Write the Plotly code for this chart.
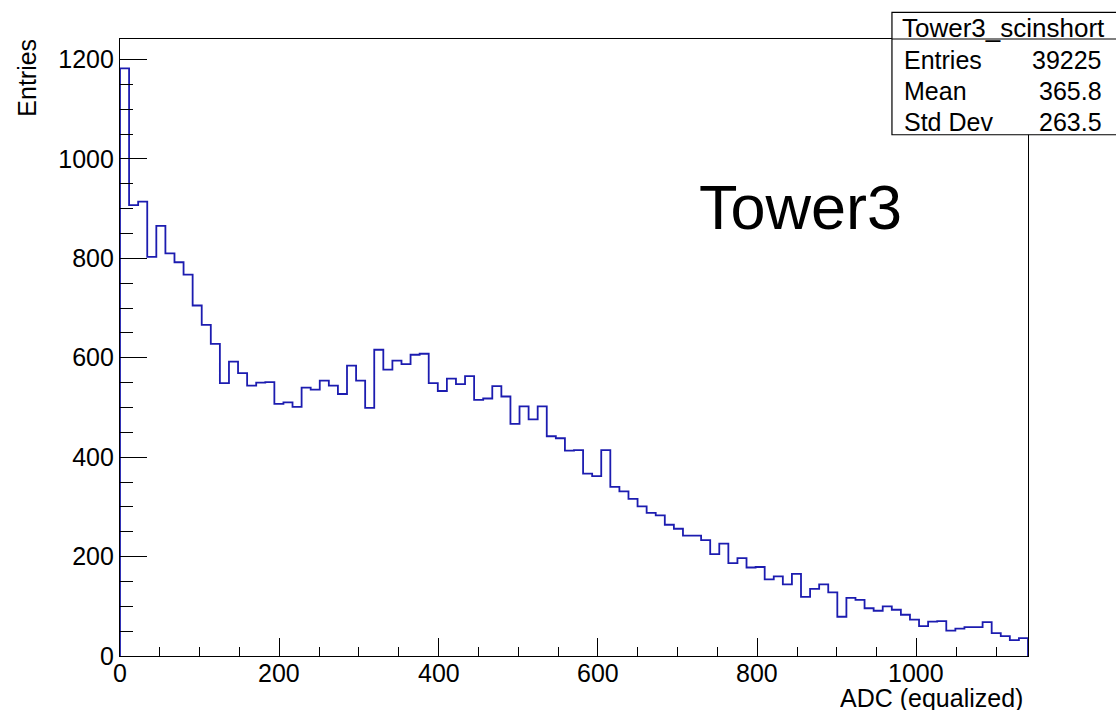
import plotly.graph_objects as go

# Histogram: 100 bins of ADC (equalized), range 0 .. 1140
x_min = 0.0
x_max = 1140.0
counts = [
    1182, 907, 914, 803, 865, 810, 792, 767, 705, 666,
    628, 549, 592, 569, 544, 550, 551, 507, 510, 501,
    540, 536, 554, 544, 527, 584, 554, 499, 616, 576,
    594, 587, 606, 608, 549, 533, 558, 547, 563, 515,
    518, 543, 522, 467, 502, 476, 502, 442, 438, 413,
    414, 367, 362, 414, 340, 331, 316, 301, 288, 283,
    264, 256, 242, 242, 233, 205, 226, 187, 197, 178,
    179, 154, 160, 144, 165, 119, 135, 144, 128, 79,
    117, 113, 96, 91, 100, 93, 83, 73, 60, 69,
    70, 51, 55, 58, 58, 68, 46, 40, 32, 36,
]
x_ticks = [0, 200, 400, 600, 800, 1000]
y_ticks = [0, 200, 400, 600, 800, 1000, 1200]
y_max = 1.05 * max(counts)

hist_name = "Tower3_scinshort"
stat_labels = ["Entries", "Mean", "Std Dev"]
stat_values = ["39225", "365.8", "263.5"]
pad_label = "Tower3"

W, H = 1116, 712
L, R, T, B = 120, 1027.7, 39.3, 656.0
FONT = "Liberation Sans, Arial, Helvetica, sans-serif"
LINE_BLUE = "#1c1cb0"

nb = len(counts)
width = (x_max - x_min) / nb
edges = [x_min + i * width for i in range(nb + 1)]

# step outline of the histogram, closed to the baseline at both ends
xs = [edges[0]] + edges + [edges[-1]]
ys = [0] + counts + [counts[-1], 0]

fig = go.Figure()
fig.add_trace(go.Scatter(
    x=xs, y=ys, mode="lines", line=dict(color=LINE_BLUE, width=1.8, shape="hv"),
    hoverinfo="skip", showlegend=False,
))


def px(xp):
    return (xp - L) / (R - L)


def py(yp):
    return (B - yp) / (B - T)


axis_common = dict(
    showgrid=False, zeroline=False, showline=True, linecolor="black", linewidth=1.2,
    mirror=True, ticks="inside", tickcolor="black", tickwidth=1.2,
    tickfont=dict(family=FONT, size=25, color="black"),
)

# x tick labels are drawn as annotations so they can sit close under the frame
fig.update_xaxes(
    range=[x_min, x_max], tickvals=x_ticks, ticklen=18, showticklabels=False,
    minor=dict(ticks="inside", ticklen=9, dtick=50, tick0=0, tickcolor="black", tickwidth=1.2, showgrid=False),
    **axis_common,
)
fig.update_yaxes(
    range=[0, y_max], tickvals=y_ticks, ticklen=27, ticklabelstandoff=0,
    minor=dict(ticks="inside", ticklen=13, dtick=50, tick0=0, tickcolor="black", tickwidth=1.2, showgrid=False),
    **axis_common,
)


def note(text, xp, yp, xanchor="left", size=25, angle=0, **extra):
    return dict(text=text, x=px(xp), y=py(yp), xref="paper", yref="paper",
                xanchor=xanchor, yanchor="middle", textangle=angle, showarrow=False,
                font=dict(family=FONT, size=size, color="black"), **extra)


annotations = [
    dict(text=str(v), x=v, y=py(673), xref="x", yref="paper", xanchor="center", yanchor="middle",
         height=24, showarrow=False, font=dict(family=FONT, size=25, color="black"))
    for v in x_ticks
]
annotations += [
    # axis titles, placed at the far ends of the axes
    note("ADC (equalized)", 1025, 697.5, xanchor="right", height=24),
    note("Entries", 27, 78, xanchor="center", angle=-90),
    # large pad label
    note(pad_label, 697, 207, size=63),
    # statistics box header
    note(hist_name, 1003, 28.5, xanchor="center", size=26),
]
row_y = [60, 91, 122]
for lab, val, yy in zip(stat_labels, stat_values, row_y):
    annotations.append(note(lab, 902, yy))
    annotations.append(note(val, 1104, yy, xanchor="right"))

shapes = [
    # statistics box frame and header separator
    dict(type="rect", xref="paper", yref="paper", x0=px(891.7), x1=px(1120), y0=py(135), y1=py(12.7),
         line=dict(color="black", width=1.2), fillcolor="white", layer="above"),
    dict(type="line", xref="paper", yref="paper", x0=px(891.7), x1=px(1120), y0=py(39.3), y1=py(39.3),
         line=dict(color="black", width=1.2), layer="above"),
]

fig.update_layout(
    width=W, height=H,
    margin=dict(l=L, r=W - R, t=T, b=H - B, pad=0),
    paper_bgcolor="white", plot_bgcolor="white",
    annotations=annotations, shapes=shapes,
    font=dict(family=FONT, color="black"),
)

fig.write_html("out.html")
